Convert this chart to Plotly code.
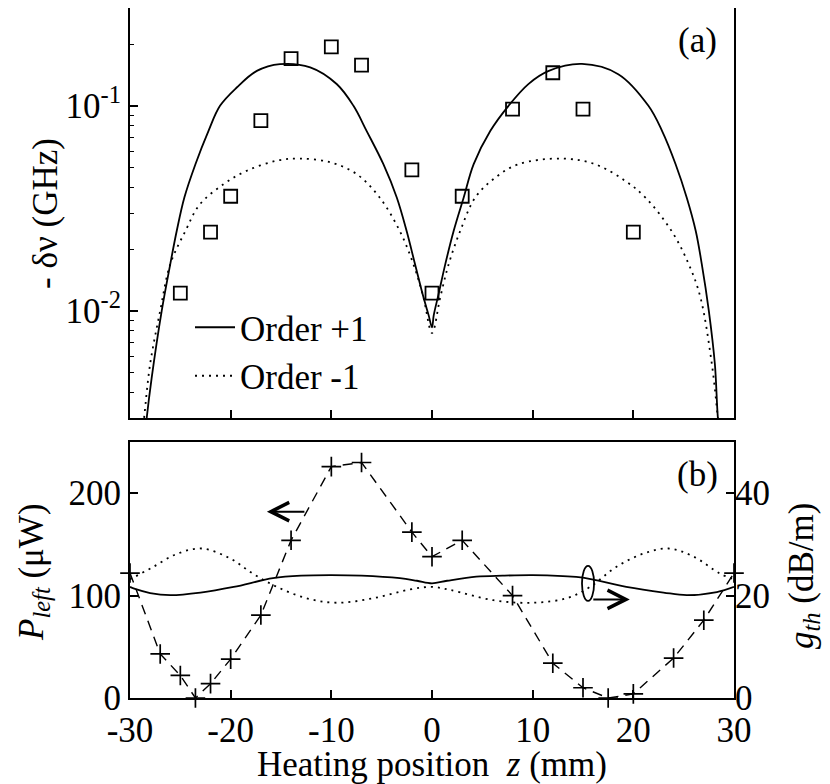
import plotly.graph_objects as go

# ---------------- data: panel (a) ----------------
meas_z = [-25, -22, -20, -17, -14, -10, -7, -2, 0, 3, 8, 12, 15, 20]
meas_dnu = [0.0122, 0.0242, 0.0362, 0.0846, 0.170, 0.194, 0.158, 0.0487,
            0.0122, 0.0362, 0.0963, 0.145, 0.0963, 0.0242]

p1_z = [-28.6, -28.34, -27.85, -26.85, -26.0, -25.36, -24.6, -23.5, -22.2, -21.06,
        -19.4, -17.4, -15.1, -12.1, -9.47, -7.8, -6.5, -4.83, -3.5, -2.52, -1.69,
        -0.86, -0.33, 0.0, 0.17, 0.66, 1.32, 2.15, 3.15, 4.14, 5.8, 7.6, 9.6, 11.6,
        14.9, 18.5, 21.5, 22.85, 24.2, 25.3, 26.2, 26.8, 27.5, 28.1, 28.4, 28.7]
p1_dnu = [0.0022, 0.003, 0.0047, 0.010, 0.0169, 0.0245, 0.0357, 0.0519, 0.0755, 0.100,
          0.1228, 0.148, 0.1597, 0.154, 0.1277, 0.100, 0.0755, 0.0519, 0.0357, 0.0245, 0.0169,
          0.0117, 0.0095, 0.0083, 0.0095, 0.0121, 0.0169, 0.0245, 0.0357, 0.0519, 0.0755, 0.100, 0.128, 0.148,
          0.160, 0.1427, 0.100, 0.0755, 0.0519, 0.0357, 0.0245, 0.0169, 0.010, 0.0055, 0.003, 0.0022]

m1_z = [-28.9, -28.6, -28.0, -27.0, -26.0, -24.5, -23.05, -20.7, -18.4, -15.4, -13.1, -10.1,
        -7.5, -5.2, -3.2, -1.85, -0.86, 0.0, 0.83, 1.66, 2.8, 4.3, 6.3, 8.6, 12.9, 16.2,
        19.2, 21.2, 23.8, 25.5, 26.65, 27.8, 28.4, 28.7]
m1_dnu = [0.0022, 0.003, 0.0055, 0.010, 0.0169, 0.0245, 0.0331, 0.0415, 0.0482, 0.054, 0.0553, 0.053,
          0.0465, 0.0357, 0.0245, 0.0169, 0.0117, 0.0078, 0.0117, 0.0169, 0.0245, 0.0357, 0.0447, 0.0519, 0.0553, 0.0519,
          0.043, 0.0357, 0.0245, 0.0169, 0.0117, 0.0055, 0.003, 0.0022]

# ---------------- data: panel (b) ----------------
pl_z = [-30, -27, -25, -23.5, -22, -20, -17, -14, -10, -7, -2, 0, 3, 8, 12, 15, 17.5, 20, 24, 27, 30]
pl_uw = [122, 43, 22, 0, 14, 38, 81, 154, 226, 230, 162, 138, 154, 100, 34, 10, 0, 4, 39, 76, 122]

gs_z = [-30, -29.5, -28, -26, -23, -19.7, -15.8, -13, -10, -7, -3.2, -1.5, 0, 1.5, 4.4, 7, 10,
        13, 15, 19.3, 23, 25.3, 28.3, 30]
gs_db = [21.7, 21.3, 20.5, 20.1, 20.6, 21.7, 23.4, 23.9, 24.0, 23.9, 23.4, 22.9, 22.4, 22.9, 23.7, 23.9, 24.0,
         23.8, 23.5, 21.7, 20.6, 20.1, 20.7, 21.7]

gd_z = [-30, -29.5, -27.7, -25.4, -22.9, -20.1, -17.8, -15.4, -12.5, -9.5, -5.8, -2.2, 0, 1.8, 6.1,
        10, 13.4, 15.7, 18.3, 21.0, 23.5, 26.0, 28.6, 30]
gd_db = [23.2, 23.7, 25.6, 28.1, 29.2, 27.3, 24.3, 21.7, 19.5, 18.6, 19.5, 21.2, 21.7, 21.1, 19.1,
         18.6, 19.5, 21.7, 25.6, 28.2, 29.2, 27.6, 24.3, 23.2]

FONT = "Liberation Serif"
FS = 35

# page geometry (browser adds an 8 px body margin)
PLOT_L, PLOT_R, PLOT_T, PLOT_B = 130, 734, 8, 698
PW = PLOT_R - PLOT_L
PH = PLOT_B - PLOT_T


def px_x(p):
    return (p - PLOT_L) / PW


def px_y(p):
    return (PLOT_B - p) / PH


fig = go.Figure()

# panel (a)
fig.add_trace(go.Scatter(x=p1_z, y=p1_dnu, mode="lines", name="Order +1",
                         line=dict(color="black", width=1.8, shape="spline", smoothing=1.0),
                         xaxis="x2", yaxis="y"))
fig.add_trace(go.Scatter(x=m1_z, y=m1_dnu, mode="lines", name="Order -1",
                         line=dict(color="black", width=1.8, dash="2px,5px", shape="spline", smoothing=1.0),
                         xaxis="x2", yaxis="y"))
fig.add_trace(go.Scatter(x=meas_z, y=meas_dnu, mode="markers", showlegend=False,
                         marker=dict(symbol="square-open", size=13, color="black", line=dict(width=1.8)),
                         xaxis="x2", yaxis="y"))

# panel (b)
fig.add_trace(go.Scatter(x=gs_z, y=gs_db, mode="lines", showlegend=False,
                         line=dict(color="black", width=1.8, shape="spline", smoothing=1.0),
                         xaxis="x", yaxis="y3"))
fig.add_trace(go.Scatter(x=gd_z, y=gd_db, mode="lines", showlegend=False,
                         line=dict(color="black", width=1.8, dash="2px,5px", shape="spline", smoothing=1.0),
                         xaxis="x", yaxis="y3"))
fig.add_trace(go.Scatter(x=pl_z, y=pl_uw, mode="lines+markers", showlegend=False,
                         line=dict(color="black", width=1.4, dash="10px,7px"),
                         marker=dict(symbol="cross-thin-open", size=14, color="black",
                                     line=dict(width=1.7, color="black")),
                         cliponaxis=False,
                         xaxis="x", yaxis="y2"))

axis_common = dict(showline=True, linecolor="black", linewidth=2, mirror=True,
                   ticks="inside", tickcolor="black", tickwidth=1.5, ticklen=8,
                   showgrid=False, zeroline=False,
                   tickfont=dict(family=FONT, size=FS, color="black"))

xticks = [-30, -20, -10, 0, 10, 20, 30]

fig.update_layout(
    width=822, height=776,
    paper_bgcolor="white", plot_bgcolor="white",
    margin=dict(l=PLOT_L - 8, r=830 - PLOT_R, t=0, b=784 - PLOT_B, autoexpand=False),
    font=dict(family=FONT, size=FS, color="black"),
    xaxis=dict(domain=[0, 1], range=[-30, 30], anchor="y2", tickvals=xticks,
               ticktext=[str(v) for v in xticks],
               title=dict(text="Heating position  <i>z</i> (mm)", font=dict(family=FONT, size=FS), standoff=1),
               **axis_common),
    xaxis2=dict(domain=[0, 1], range=[-30, 30], anchor="y", tickvals=xticks,
                showticklabels=False, **axis_common),
    yaxis=dict(domain=[px_y(418), 1], type="log", range=[-2.5229, -0.5229], anchor="x2",
               tickvals=[0.01, 0.1], ticktext=["10<sup>-2</sup>", "10<sup>-1</sup>"],
               minor=dict(tickvals=[0.004, 0.005, 0.006, 0.007, 0.008, 0.009,
                                    0.02, 0.03, 0.04, 0.05, 0.06, 0.07, 0.08, 0.09, 0.2, 0.3],
                          ticks="inside", ticklen=4, tickcolor="black", tickwidth=1.2),
               **axis_common),
    yaxis2=dict(domain=[0, px_y(442)], range=[0, 250], anchor="x", tickvals=[0, 100, 200],
                **axis_common),
    yaxis3=dict(range=[0, 50], overlaying="y2", side="right", anchor="x", tickvals=[0, 20, 40],
                showline=False, ticks="inside", ticklen=8, tickwidth=1.5, tickcolor="black",
                showgrid=False, zeroline=False,
                tickfont=dict(family=FONT, size=FS, color="black")),
    legend=dict(x=px_x(190), y=px_y(298), xanchor="left", yanchor="top",
                bgcolor="rgba(0,0,0,0)", borderwidth=0,
                font=dict(family=FONT, size=FS, color="black"),
                itemwidth=40, tracegroupgap=0),
    showlegend=True,
)

annotations = [
    dict(text="- δν (GHz)", textangle=-90, xref="paper", yref="paper",
         x=px_x(45), y=px_y(214), xanchor="center", yanchor="middle", showarrow=False,
         font=dict(family=FONT, size=FS)),
    dict(text="<i>P</i><sub><i>left</i></sub> (μW)", textangle=-90, xref="paper", yref="paper",
         x=px_x(33), y=px_y(572), xanchor="center", yanchor="middle", showarrow=False,
         font=dict(family=FONT, size=FS)),
    dict(text="<i>g</i><sub><i>th</i></sub> (dB/m)", textangle=-90, xref="paper", yref="paper",
         x=px_x(803), y=px_y(576), xanchor="center", yanchor="middle", showarrow=False,
         font=dict(family=FONT, size=FS)),
    dict(text="(a)", xref="paper", yref="paper", x=px_x(697), y=px_y(41),
         xanchor="center", yanchor="middle", showarrow=False, font=dict(family=FONT, size=FS)),
    dict(text="(b)", xref="paper", yref="paper", x=px_x(697), y=px_y(475),
         xanchor="center", yanchor="middle", showarrow=False, font=dict(family=FONT, size=FS)),
    # left-pointing arrow (P_left axis)
    dict(x=-16.4, y=182, xref="x", yref="y2", ax=39, ay=0, axref="pixel", ayref="pixel",
         text="", showarrow=True, arrowhead=5, arrowsize=1.8, arrowwidth=2, arrowcolor="black"),
    # right-pointing arrow (g_th axis)
    dict(x=19.65, y=96.3, xref="x", yref="y2", ax=-38, ay=0, axref="pixel", ayref="pixel",
         text="", showarrow=True, arrowhead=5, arrowsize=1.8, arrowwidth=2, arrowcolor="black"),
]
fig.update_layout(annotations=annotations)

fig.add_shape(type="circle", xref="x", yref="y2", x0=14.9, x1=16.1, y0=94.8, y1=129,
              line=dict(color="black", width=1.8))

fig.write_html("out.html")
